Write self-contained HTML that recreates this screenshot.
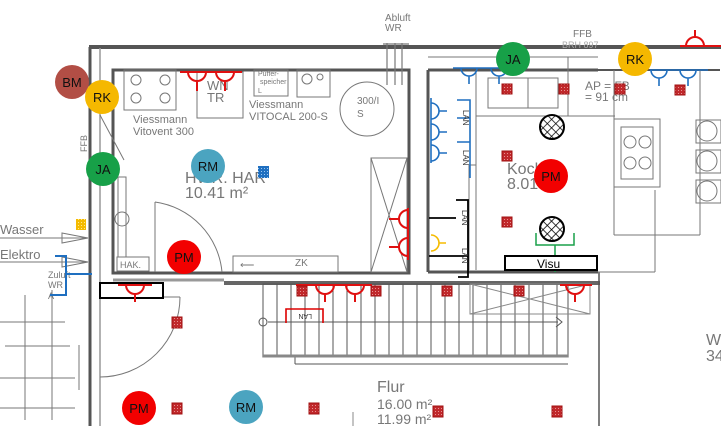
<!DOCTYPE html>
<html><head><meta charset="utf-8"><style>
html,body{margin:0;padding:0;background:#fff;}
svg{display:block;font-family:"Liberation Sans",sans-serif;}
.g{fill:#777;}
</style></head><body>
<svg width="721" height="426" viewBox="0 0 721 426" xmlns="http://www.w3.org/2000/svg">
<defs>
<pattern id="dots" width="3" height="3" patternUnits="userSpaceOnUse"><rect width="3" height="3" fill="#c0282b"/><rect width="1" height="1" fill="#e89090"/></pattern>
<pattern id="ydots" width="3" height="3" patternUnits="userSpaceOnUse"><rect width="3" height="3" fill="#f5bb00"/><rect width="1" height="1" fill="#ffe890"/></pattern>
<pattern id="bdots" width="3" height="3" patternUnits="userSpaceOnUse"><rect width="3" height="3" fill="#1f6fc0"/><rect width="1" height="1" fill="#9cc7f0"/></pattern>
<pattern id="hatch" width="6" height="6" patternUnits="userSpaceOnUse" patternTransform="rotate(45)"><rect width="6" height="6" fill="#fff"/><line x1="0" y1="0" x2="0" y2="6" stroke="#000" stroke-width="1.5"/><line x1="0" y1="0" x2="6" y2="0" stroke="#000" stroke-width="1.5"/></pattern>
</defs>

<!-- outer walls -->
<g stroke="#555" fill="none">
<line x1="89" y1="47" x2="721" y2="47" stroke-width="4"/>
<line x1="90" y1="47" x2="90" y2="426" stroke-width="3"/>
<line x1="100" y1="48" x2="100" y2="426" stroke-width="1.5" stroke="#999"/>
<rect x="113" y="70" width="296" height="203" stroke-width="3"/>
<line x1="428" y1="70" x2="598" y2="70" stroke-width="3"/>
<line x1="428" y1="70" x2="428" y2="272" stroke-width="3"/>
<line x1="428" y1="272" x2="598" y2="272" stroke-width="3"/>
<line x1="224" y1="283" x2="600" y2="283" stroke-width="4" stroke="#666"/>
<line x1="113" y1="280" x2="224" y2="280" stroke-width="3" stroke="#999"/>
<line x1="599" y1="272" x2="599" y2="426" stroke-width="1.5" stroke="#555"/>
<line x1="598" y1="70" x2="720" y2="70" stroke-width="2"/>
</g>
<g stroke="#777" stroke-width="1.2">
<line x1="387" y1="43" x2="387" y2="85"/><line x1="395" y1="43" x2="395" y2="85"/><line x1="402" y1="43" x2="402" y2="85"/>
<line x1="383" y1="44" x2="409" y2="44"/>
</g>
<text x="385" y="21" font-size="10" class="g">Abluft</text>
<text x="385" y="31" font-size="10" class="g">WR</text>

<!-- HWR interior -->
<g stroke="#777" fill="none" stroke-width="1">
<rect x="124" y="70" width="52" height="40"/>
<circle cx="136" cy="80" r="5"/><circle cx="165" cy="80" r="5"/><circle cx="136" cy="98" r="5"/><circle cx="165" cy="98" r="5"/>
<rect x="197" y="72" width="46" height="46"/>
<rect x="254" y="70" width="34" height="26"/>
<rect x="297" y="70" width="33" height="27"/>
<circle cx="307" cy="79" r="5"/><circle cx="320" cy="77" r="3"/>
<circle cx="367" cy="109" r="27"/>
<rect x="371" y="158" width="36" height="114"/>
<line x1="371" y1="158" x2="407" y2="272"/><line x1="407" y1="158" x2="371" y2="272"/>
<path d="M155 202 A78 78 0 0 1 222 272" />
<line x1="155" y1="202" x2="155" y2="272"/>
<rect x="233" y="256" width="105" height="16"/>
<rect x="117" y="257" width="32" height="14"/>
<rect x="118" y="177" width="8" height="80"/>
<circle cx="122" cy="219" r="7"/>
<line x1="100" y1="115" x2="124" y2="160"/>
</g>
<text x="133" y="123" font-size="11" class="g">Viessmann</text>
<text x="133" y="135" font-size="11" class="g">Vitovent 300</text>
<text x="249" y="108" font-size="11" class="g">Viessmann</text>
<text x="249" y="120" font-size="11" class="g">VITOCAL 200-S</text>
<text x="207" y="90" font-size="13" class="g">WN</text>
<text x="207" y="102" font-size="13" class="g">TR</text>
<text x="258" y="76" font-size="7" class="g">Puffer-</text>
<text x="260" y="84" font-size="7" class="g">speicher</text>
<text x="258" y="93" font-size="7" class="g">L</text>
<text x="357" y="104" font-size="10" class="g">300/I</text>
<text x="357" y="117" font-size="10" class="g">S</text>
<text x="185" y="183" font-size="16" class="g">HWR. HAR</text>
<text x="185" y="198" font-size="16" class="g">10.41 m²</text>
<text x="295" y="266" font-size="10" class="g">ZK</text>
<text x="240" y="268" font-size="10" class="g">⟵</text>
<text x="120" y="268" font-size="9" class="g">HAK.</text>
<text x="87" y="152" font-size="9" class="g" transform="rotate(-90 87 152)">FFB</text>

<!-- left externals -->
<g stroke="#777" fill="none" stroke-width="1">
<line x1="0" y1="238" x2="88" y2="238"/><path d="M62 233 L88 238 L62 243 Z"/>
<line x1="0" y1="262" x2="88" y2="262"/><path d="M62 257 L88 262 L62 267 Z"/>
<line x1="0" y1="322" x2="65" y2="322"/><line x1="25" y1="295" x2="25" y2="420"/><line x1="52" y1="290" x2="52" y2="420"/>
<line x1="5" y1="346" x2="70" y2="346"/><line x1="0" y1="378" x2="75" y2="378"/><line x1="79" y1="345" x2="79" y2="390"/><line x1="0" y1="408" x2="75" y2="408"/>
<path d="M100 377 A80 80 0 0 0 180 297"/>
<line x1="100" y1="297" x2="180" y2="297"/>
</g>
<text x="0" y="234" font-size="13" class="g">Wasser</text>
<text x="0" y="259" font-size="13" class="g">Elektro</text>
<text x="48" y="278" font-size="9" class="g">Zuluft</text>
<text x="48" y="288" font-size="9" class="g">WR</text>
<text x="48" y="299" font-size="9" class="g">A</text>
<path d="M55 256 H66 V295 H50 M66 274 H92" stroke="#1f6fc0" stroke-width="2" fill="none"/>
<rect x="100" y="283" width="63" height="15" fill="#fff" stroke="#000" stroke-width="2"/>

<!-- kitchen -->
<g stroke="#777" fill="none" stroke-width="1">
<line x1="428" y1="57" x2="598" y2="57"/>
<rect x="488" y="78" width="70" height="30"/>
<rect x="528" y="78" width="30" height="30"/>
<line x1="476" y1="116" x2="615" y2="116"/>
<line x1="476" y1="70" x2="476" y2="270"/>
<line x1="469" y1="165" x2="476" y2="165"/><line x1="469" y1="165" x2="469" y2="270"/>
<line x1="568" y1="57" x2="568" y2="116"/>
<rect x="614" y="119" width="46" height="68"/>
<rect x="621" y="127" width="32" height="52"/>
<circle cx="630" cy="142" r="6"/><circle cx="645" cy="142" r="6"/><circle cx="630" cy="163" r="6"/><circle cx="645" cy="163" r="6"/>
<line x1="614" y1="70" x2="614" y2="235"/><line x1="614" y1="235" x2="700" y2="235"/><line x1="700" y1="70" x2="700" y2="235"/>
<line x1="655" y1="190" x2="655" y2="272"/><line x1="598" y1="272" x2="655" y2="272"/>
<rect x="696" y="120" width="25" height="23"/><rect x="696" y="150" width="25" height="23"/><rect x="696" y="180" width="25" height="23"/>
<circle cx="707" cy="131" r="10"/><circle cx="707" cy="161" r="10"/><circle cx="707" cy="191" r="10"/>
</g>
<text x="573" y="37" font-size="10" class="g">FFB</text>
<text x="562" y="48" font-size="9" fill="#aaa">BRH 897</text>
<text x="585" y="90" font-size="12" class="g">AP = FB</text>
<text x="585" y="101" font-size="12" class="g">= 91 cm</text>
<text x="507" y="174" font-size="16" class="g">Koch</text>
<text x="507" y="189" font-size="16" class="g">8.01</text>
<circle cx="552" cy="127" r="12" fill="url(#hatch)" stroke="#000" stroke-width="2"/>
<circle cx="552" cy="229" r="12" fill="url(#hatch)" stroke="#000" stroke-width="2"/>
<path d="M536 233 V245 H574 V233 M555 245 V272" stroke="#1aa04a" stroke-width="1.5" fill="none"/>
<rect x="505" y="256" width="92" height="14" fill="#fff" stroke="#000" stroke-width="2"/>
<text x="537" y="268" font-size="12">Visu</text>
<g stroke="#1f6fc0" stroke-width="1.6" fill="none">
<path d="M457 100 H470 V178 M457 118 H470 M457 142 H470"/>
<path d="M431 98 V163"/>
<path d="M431 103 A8 8 0 0 1 431 119 M431 124 A8 8 0 0 1 431 140 M431 145 A8 8 0 0 1 431 161 M439 111 H447 M439 132 H447 M439 153 H447"/>
<path d="M453 68 H520 M461 68 A8 8 0 0 0 477 68 M469 76 V84 M491 68 A8 8 0 0 0 507 68 M499 76 V84"/>
<path d="M650 70 H708 M651 70 A8 8 0 0 0 667 70 M659 78 V86 M680 70 A8 8 0 0 0 696 70 M688 78 V86"/>
</g>
<text x="463" y="110" font-size="8" fill="#333" transform="rotate(90 463 110)">LAN</text>
<text x="463" y="150" font-size="8" fill="#333" transform="rotate(90 463 150)">LAN</text>
<g stroke="#000" stroke-width="1.8" fill="none"><path d="M456 200 H468 V277 H458 M429 218 H456 M429 256 H468"/></g>
<text x="462" y="210" font-size="8" fill="#333" transform="rotate(90 462 210)">LAN</text>
<text x="462" y="248" font-size="8" fill="#333" transform="rotate(90 462 248)">LAN</text>
<path d="M431 235 A8 8 0 0 1 431 251 M439 243 H446" stroke="#f5bb00" stroke-width="1.6" fill="none"/>

<!-- stairs -->
<g stroke="#555" stroke-width="1" fill="none">
<rect x="263" y="284" width="305" height="73"/>
<path d="M277 284V357M291 284V357M305 284V357M319 284V357M333 284V357M347 284V357M361 284V357M375 284V357M389 284V357M403 284V357M417 284V357M431 284V357M445 284V357M459 284V357M473 284V357M487 284V357M501 284V357M515 284V357M529 284V357M543 284V357M557 284V357"/>
<line x1="268" y1="322" x2="558" y2="322"/><path d="M556 317 L562 322 L556 327"/>
<circle cx="263" cy="322" r="4"/>
<line x1="295" y1="357" x2="295" y2="364"/><line x1="295" y1="364" x2="568" y2="364"/>
<rect x="470" y="284" width="120" height="30" stroke="#888"/>
<line x1="470" y1="284" x2="590" y2="314" stroke="#888"/><line x1="590" y1="284" x2="470" y2="314" stroke="#888"/>
<line x1="353" y1="412" x2="353" y2="426" stroke="#888"/>
</g>
<line x1="263" y1="356" x2="568" y2="356" stroke="#888" stroke-width="3"/>
<path d="M286 323 V309 H323 V323" stroke="#d00" stroke-width="1.6" fill="none"/>
<text x="298" y="320" font-size="7" fill="#333" transform="rotate(180 305 317)">LAN</text>
<text x="377" y="392" font-size="16" class="g">Flur</text>
<text x="377" y="409" font-size="14" class="g">16.00 m²</text>
<text x="377" y="424" font-size="14" class="g">11.99 m²</text>
<text x="706" y="345" font-size="16" class="g">W</text>
<text x="706" y="361" font-size="16" class="g">34</text>

<!-- red sockets -->
<g stroke="#e01010" stroke-width="2" fill="none">
<path d="M180 72 H242 M188 72 A9 9 0 0 0 206 72 M197 81 V91 M216 72 A9 9 0 0 0 234 72 M225 81 V91"/>
<path d="M408 208 V260 M408 210 A9 9 0 0 0 408 228 M399 219 H389 M408 238 A9 9 0 0 0 408 256 M399 247 H389"/>
<path d="M118 285 H152 M126 285 A9 9 0 0 0 144 285 M135 294 V302"/>
<path d="M296 285 H372 M316 285 A9 9 0 0 0 334 285 M325 294 V302 M346 285 A9 9 0 0 0 364 285 M355 294 V302"/>
<path d="M560 285 H592 M566 285 A9 9 0 0 0 584 285 M575 294 V302"/>
<path d="M680 46 H721 M686 46 A9 9 0 0 1 704 46 M695 37 V30"/>
</g>
<g fill="url(#dots)" stroke="#a01010" stroke-width="1">
<rect x="502" y="84" width="10" height="10"/><rect x="559" y="84" width="10" height="10"/><rect x="615" y="84" width="10" height="10"/><rect x="675" y="85" width="10" height="10"/>
<rect x="502" y="151" width="10" height="10"/><rect x="502" y="217" width="10" height="10"/>
<rect x="297" y="286" width="10" height="10"/><rect x="371" y="286" width="10" height="10"/><rect x="442" y="286" width="10" height="10"/><rect x="514" y="286" width="10" height="10"/>
<rect x="172" y="317" width="10" height="11"/><rect x="172" y="403" width="10" height="11"/><rect x="309" y="403" width="10" height="11"/><rect x="433" y="406" width="10" height="11"/><rect x="552" y="406" width="10" height="11"/>
</g>
<rect x="76" y="219" width="10" height="11" fill="url(#ydots)"/>
<rect x="258" y="166" width="11" height="12" fill="url(#bdots)"/>

<!-- circles -->
<g font-size="13" text-anchor="middle" fill="#111">
<circle cx="72" cy="82" r="17" fill="#b24e45"/><text x="72" y="87">BM</text>
<circle cx="102" cy="97" r="17" fill="#f5b800"/><text x="102" y="102">RK</text>
<circle cx="103" cy="169" r="17" fill="#17a048"/><text x="103" y="174">JA</text>
<circle cx="208" cy="166" r="17" fill="#4ba4c0"/><text x="208" y="171">RM</text>
<circle cx="184" cy="257" r="17" fill="#f20000"/><text x="184" y="262">PM</text>
<circle cx="513" cy="59" r="17" fill="#17a048"/><text x="513" y="64">JA</text>
<circle cx="635" cy="59" r="17" fill="#f5b800"/><text x="635" y="64">RK</text>
<circle cx="551" cy="176" r="17" fill="#f20000"/><text x="551" y="181">PM</text>
<circle cx="139" cy="408" r="17" fill="#f20000"/><text x="139" y="413">PM</text>
<circle cx="246" cy="407" r="17" fill="#4ba4c0"/><text x="246" y="412">RM</text>
</g>
</svg>
</body></html>
